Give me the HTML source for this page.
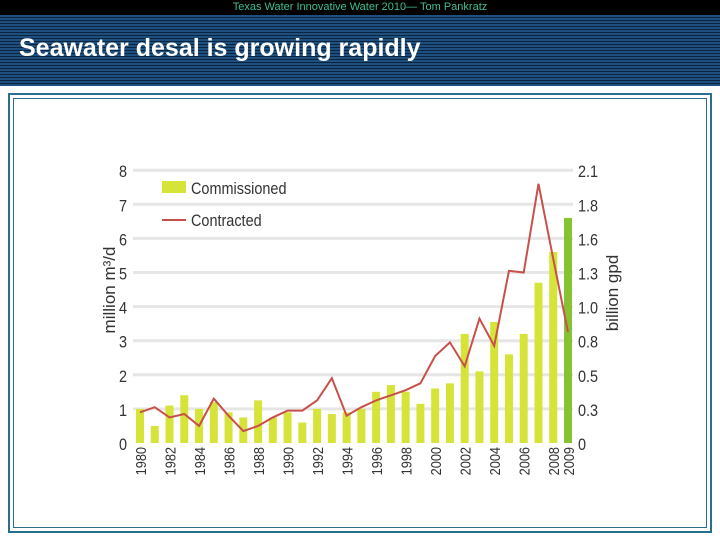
<!DOCTYPE html>
<html><head><meta charset="utf-8"><style>
body{margin:0;width:720px;height:540px;overflow:hidden;background:#fff;font-family:"Liberation Sans",sans-serif;}
#top{position:absolute;left:0;top:0;width:720px;height:15px;background:#000;color:#3fbf8f;font-size:11px;text-align:center;line-height:15px;}
#band{position:absolute;left:0;top:15px;width:720px;height:71px;background:repeating-linear-gradient(#1d4f7f 0 2px,#0c2440 2px 3px);}
#title{position:absolute;left:19px;top:34px;color:#fff;font-size:25px;font-weight:bold;}
#frame{position:absolute;left:8px;top:93px;width:700px;height:436px;border:2px solid #2a6e8e;}
#inner{position:absolute;left:13px;top:98px;width:692px;height:428px;border:1px solid #2a6e8e;}
</style></head><body>
<div id="top">Texas Water Innovative Water 2010— Tom Pankratz</div>
<div id="band"></div>
<div id="title">Seawater desal is growing rapidly</div>
<div id="frame"></div>
<div id="inner"></div>
<svg id="chart" width="720" height="540" style="position:absolute;left:0;top:0"></svg>
<script>
const years=[1980,1981,1982,1983,1984,1985,1986,1987,1988,1989,1990,1991,1992,1993,1994,1995,1996,1997,1998,1999,2000,2001,2002,2003,2004,2005,2006,2007,2008,2009];
const commissioned=[1.0,0.5,1.1,1.4,1.0,1.2,0.9,0.75,1.25,0.75,0.9,0.6,1.0,0.85,0.9,1.0,1.5,1.7,1.5,1.15,1.6,1.75,3.2,2.1,3.55,2.6,3.2,4.7,5.6,6.6];
const contracted=[0.9,1.05,0.75,0.85,0.5,1.3,0.8,0.35,0.5,0.75,0.95,0.95,1.25,1.9,0.8,1.05,1.25,1.4,1.55,1.75,2.55,2.95,2.25,3.65,2.85,5.05,5.0,7.6,5.4,3.25];
const leftTicks=[0,1,2,3,4,5,6,7,8];
const rightTicks=["0","0.3","0.5","0.8","1.0","1.3","1.6","1.8","2.1"];
const yearLabels=[1980,1982,1984,1986,1988,1990,1992,1994,1996,1998,2000,2002,2004,2006,2008,2009];
const NS="http://www.w3.org/2000/svg";
const svg=document.getElementById('chart');
const x=i=>140+i*(428/29);
const y=v=>443-v*34.1;
function mk(t,a,txt){const e=document.createElementNS(NS,t);for(const k in a)e.setAttribute(k,a[k]);if(txt!==undefined)e.textContent=txt;svg.appendChild(e);return e;}
leftTicks.forEach((v,i)=>{
 if(v>0){const g=mk('line',{x1:133,x2:573,y1:y(v),y2:y(v),stroke:'#e6e6e6','stroke-width':3});
 
 }
 const l=mk('text',{x:127,y:y(v)+7,'text-anchor':'end','font-size':17,fill:'#333',transform:`scale(0.85,1)`},v);
 l.setAttribute('x',127/0.85);
 
 
 const r=mk('text',{x:578/0.85,y:y(v)+7,'font-size':17,fill:'#333',transform:'scale(0.85,1)'},rightTicks[i]);
 
 
});
commissioned.forEach((v,i)=>{
 const b=mk('rect',{x:x(i)-4,y:y(v),width:8,height:y(0)-y(v),fill:i==29?'#86c232':'#d6e43a'});
 
 
});
const p=mk('polyline',{points:contracted.map((v,i)=>x(i)+','+y(v)).join(' '),fill:'none',stroke:'#c8504a','stroke-width':2});


yearLabels.forEach(yr=>{
 const i=years.indexOf(yr);const cx=x(i)+6;
 const t=mk('text',{x:0,y:0,'text-anchor':'end','font-size':15,fill:'#333',transform:`translate(${cx},447) rotate(-90) scale(0.85,1)`},yr);
 
 
});
const lr=mk('rect',{x:162,y:181,width:24,height:12,fill:'#d6e43a'});


const lt=mk('text',{x:191/0.85,y:194,'font-size':17,fill:'#333',transform:'scale(0.85,1)'},'Commissioned');


const ll=mk('line',{x1:162,x2:186,y1:220,y2:220,stroke:'#c8504a','stroke-width':2});


const lt2=mk('text',{x:191/0.85,y:226,'font-size':17,fill:'#333',transform:'scale(0.85,1)'},'Contracted');


const yl=mk('text',{x:0,y:0,'text-anchor':'middle','font-size':17,fill:'#333',transform:'translate(115,290) rotate(-90)'},'million m³/d');


const yr2=mk('text',{x:0,y:0,'text-anchor':'middle','font-size':17,fill:'#333',transform:'translate(618,293) rotate(-90)'},'billion gpd');


</script>
</body></html>
